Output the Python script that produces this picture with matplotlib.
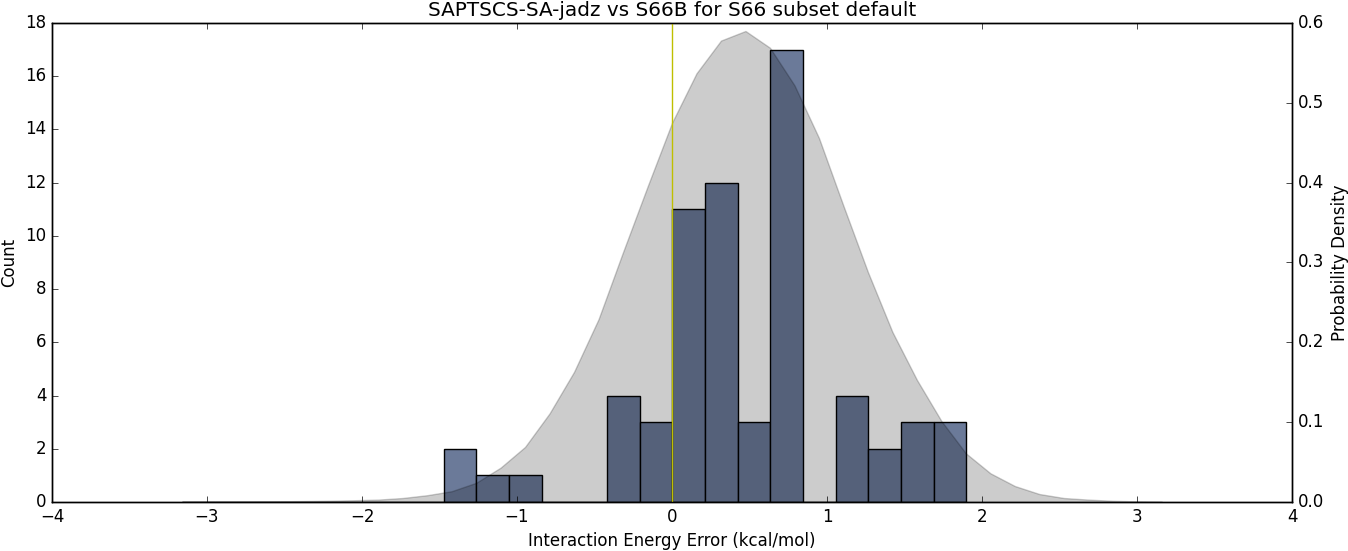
import numpy as np
import matplotlib
matplotlib.use("Agg")
import matplotlib.pyplot as plt

# histogram: 24 bins starting at -3.16, width ~0.2108
bin_start = -3.16
bin_width = 0.2108
counts = [0, 0, 0, 0, 0, 0, 0, 0, 2, 1, 1, 0, 0, 4, 3, 11, 12, 3, 17, 0, 4, 2, 3, 3]

# KDE curve, 41 points on [-3.16, 3.16]
kde_x = np.linspace(-3.16, 3.16, 41)
kde_y = [0.0005, 0.0006, 0.0006, 0.0007, 0.0009, 0.0012, 0.0016, 0.0022,
         0.003, 0.005, 0.0085, 0.0135, 0.024, 0.043, 0.069, 0.111,
         0.163, 0.229, 0.313, 0.395, 0.475, 0.537, 0.578, 0.590,
         0.569, 0.522, 0.456, 0.371, 0.288, 0.213, 0.153, 0.1015,
         0.061, 0.036, 0.020, 0.010, 0.005, 0.003, 0.0015, 0.0008, 0.0004]

plt.style.use("classic")

fig = plt.figure(figsize=(13.48, 5.51), dpi=100, facecolor="white")
ax1 = fig.add_axes([52 / 1348, 1 - 502 / 551, 1240 / 1348, 479 / 551])
ax1.set_facecolor("white")

lefts = [bin_start + i * bin_width for i in range(len(counts))]
ax1.bar(lefts, counts, width=bin_width, align="edge", color="#6b7a99",
        edgecolor="black", linewidth=1)
ax1.set_xlim(-4, 4)
ax1.set_ylim(0, 18)
ax1.set_xlabel("Interaction Energy Error (kcal/mol)")
ax1.set_ylabel("Count")
ax1.set_title("SAPTSCS-SA-jadz vs S66B for S66 subset default", fontsize=14.4)

ax2 = ax1.twinx()
ax2.fill_between(kde_x, kde_y, 0, facecolor="k", edgecolor="k", alpha=0.2, linewidth=1)
ax2.axvline(0, color="y", linewidth=1)
ax2.set_ylim(0, 0.6)
ax2.set_xlim(-4, 4)
ax2.set_ylabel("Probability Density")

fig.savefig("out.png", dpi=100, facecolor="white")
